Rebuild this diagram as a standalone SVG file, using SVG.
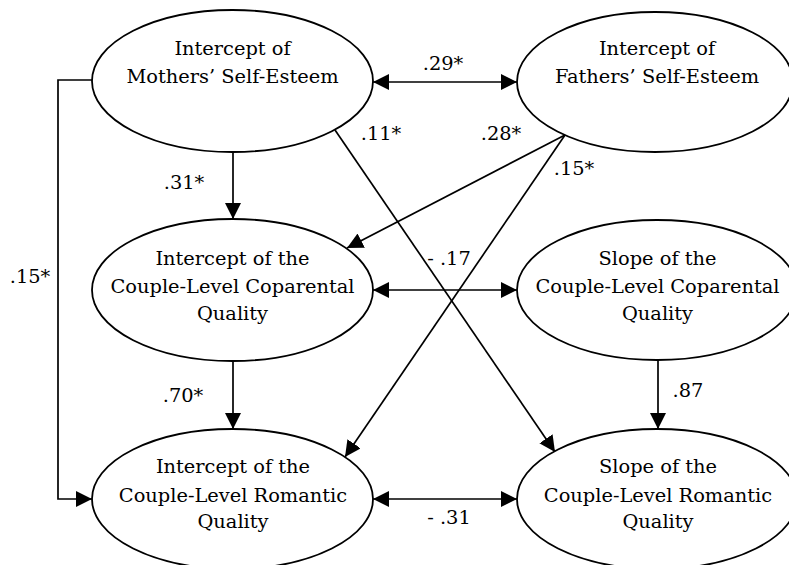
<svg xmlns="http://www.w3.org/2000/svg" width="789" height="565" viewBox="0 0 789 565">
  <style>
    .node ellipse { fill: #ffffff; stroke: #000000; stroke-width: 1.8; }
    .node text, .label { font-family: "DejaVu Serif", "Liberation Serif", serif; font-size: 19.4px; fill: #000000; text-anchor: middle; }
    .edge { fill: none; stroke: #000000; stroke-width: 1.7; marker-end: url(#arrow); }
    .both { marker-start: url(#arrow); }
  </style>
  <defs>
    <marker id="arrow" markerUnits="userSpaceOnUse" markerWidth="16" markerHeight="16" refX="16" refY="8" orient="auto-start-reverse">
      <path d="M0,0 L16,8 L0,16 Z" fill="#000000"/>
    </marker>
  </defs>

  <rect width="789" height="565" fill="#ffffff"/>

  <!-- connectors -->
  <g id="connectors">
    <path class="edge" d="M92,80 H58 V499 H92"/>
    <line class="edge both" x1="373" y1="82" x2="517" y2="82"/>
    <line class="edge" x1="233" y1="152" x2="233" y2="219"/>
    <line class="edge" x1="335" y1="130" x2="555" y2="452"/>
    <line class="edge" x1="565" y1="135" x2="347" y2="248"/>
    <line class="edge" x1="565" y1="135" x2="345" y2="457"/>
    <line class="edge both" x1="373" y1="290" x2="517" y2="290"/>
    <line class="edge" x1="233" y1="361" x2="233" y2="429"/>
    <line class="edge" x1="658" y1="360" x2="658" y2="429"/>
    <line class="edge both" x1="373" y1="499" x2="517" y2="499"/>
  </g>

  <!-- path coefficients -->
  <g id="coefficients">
    <text class="label" x="443" y="70">.29*</text>
    <text class="label" x="381" y="140">.11*</text>
    <text class="label" x="501" y="140">.28*</text>
    <text class="label" x="574" y="175">.15*</text>
    <text class="label" x="184" y="189">.31*</text>
    <text class="label" x="30" y="283">.15*</text>
    <text class="label" x="449" y="265">- .17</text>
    <text class="label" x="183" y="402">.70*</text>
    <text class="label" x="688" y="397">.87</text>
    <text class="label" x="449" y="524">- .31</text>
  </g>

  <g id="mothers-self-esteem" class="node">
    <ellipse cx="232.5" cy="81" rx="140.5" ry="71"/>
    <text x="232.5" y="55">Intercept of</text>
    <text x="232.5" y="83">Mothers’ Self-Esteem</text>
  </g>

  <g id="fathers-self-esteem" class="node">
    <ellipse cx="655" cy="82" rx="138" ry="70"/>
    <text x="657" y="55">Intercept of</text>
    <text x="657" y="83">Fathers’ Self-Esteem</text>
  </g>

  <g id="coparental-intercept" class="node">
    <ellipse cx="232.5" cy="290" rx="140.5" ry="71"/>
    <text x="232.5" y="265">Intercept of the</text>
    <text x="232.5" y="293">Couple-Level Coparental</text>
    <text x="232.5" y="320">Quality</text>
  </g>

  <g id="coparental-slope" class="node">
    <ellipse cx="657" cy="290" rx="140" ry="70"/>
    <text x="657.5" y="265">Slope of the</text>
    <text x="657.5" y="293">Couple-Level Coparental</text>
    <text x="657.5" y="320">Quality</text>
  </g>

  <g id="romantic-intercept" class="node">
    <ellipse cx="232.5" cy="499" rx="140.5" ry="70"/>
    <text x="233" y="473">Intercept of the</text>
    <text x="233" y="502">Couple-Level Romantic</text>
    <text x="233" y="528">Quality</text>
  </g>

  <g id="romantic-slope" class="node">
    <ellipse cx="657" cy="499" rx="140" ry="70"/>
    <text x="658" y="473">Slope of the</text>
    <text x="658" y="502">Couple-Level Romantic</text>
    <text x="658" y="528">Quality</text>
  </g>
</svg>
